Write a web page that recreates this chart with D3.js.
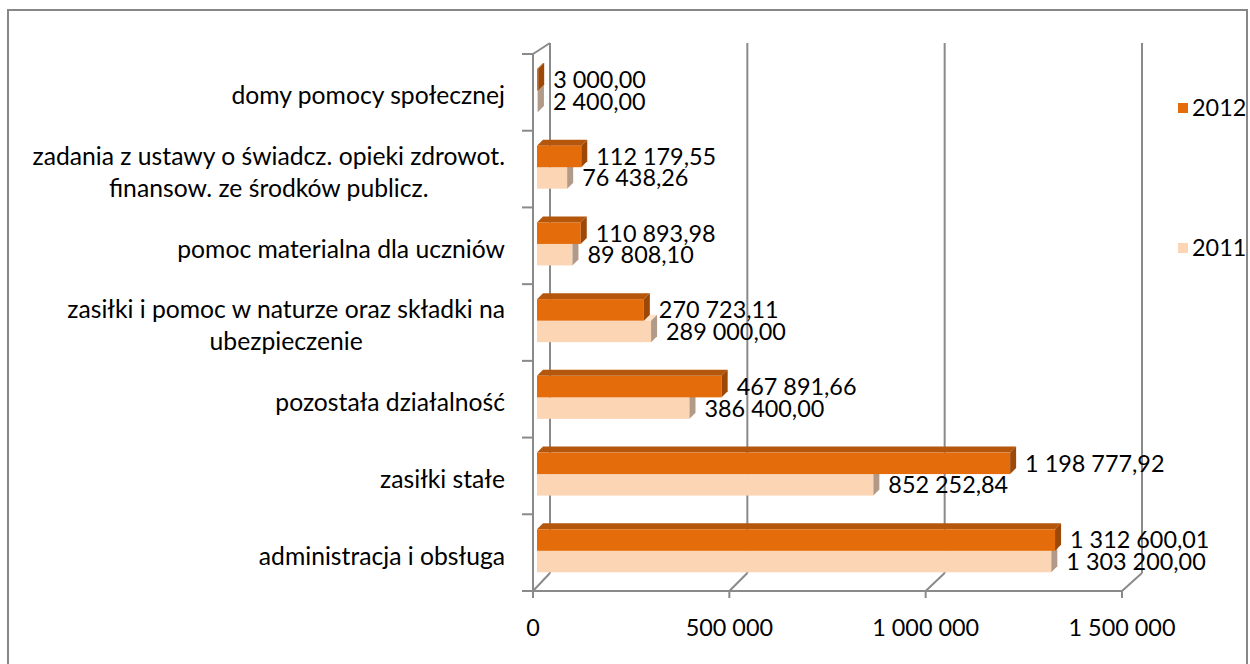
<!DOCTYPE html>
<html>
<head>
<meta charset="utf-8">
<script src="https://cdn.jsdelivr.net/npm/d3@7"></script>
<style>
body { margin: 0; background: #fff; }
text { font-family: Lato, "Open Sans", sans-serif; font-size: 23.4px; fill: #000; }
text.cat { font-size: 24.7px; }
</style>
</head>
<body>
<div id="chart"></div>
<script>
// Data
var categories = [
    ["domy pomocy społecznej"],
    ["zadania z ustawy o świadcz. opieki zdrowot.", "finansow. ze środków publicz."],
    ["pomoc materialna dla uczniów"],
    ["zasiłki i pomoc w naturze oraz składki na", "ubezpieczenie"],
    ["pozostała działalność "],
    ["zasiłki stałe"],
    ["administracja i obsługa"]
];
var values2012 = [3000.00, 112179.55, 110893.98, 270723.11, 467891.66, 1198777.92, 1312600.01];
var values2011 = [2400.00, 76438.26, 89808.10, 289000.00, 386400.00, 852252.84, 1303200.00];
var years = ["2012", "2011"];
var xTicks = [0, 500000, 1000000, 1500000];

var colors = {
    "2012": {front: "#e46c0a", top: "#b4560b", side: "#9e4807"},
    "2011": {front: "#fcd5b5", top: "#fde4cf", side: "#b19a88"}
};

var width = 1250, height = 664;
var plTop = 54, plBottom = 591, plLeft = 533, plRight = 1122;
var depth = 6; // bar depth in px
var gridColor = "#8a8a8a";

var locale = d3.formatLocale({decimal: ",", thousands: " ", grouping: [3], currency: ["", ""]});
var fmtVal = locale.format(",.2f");
var fmtTick = locale.format(",d");

var svg = d3.select("#chart").append("svg")
    .attr("width", width)
    .attr("height", height);

// outer frame
svg.append("rect")
    .attr("x", 8).attr("y", 10)
    .attr("width", 1239).attr("height", 662)
    .attr("fill", "none")
    .attr("stroke", "#878787")
    .attr("stroke-width", 2);

// scales
var idx = d3.range(categories.length);
var yScale = d3.scaleBand().domain(idx).range([plTop, plBottom]).padding(0);
var xAxisScale = d3.scaleLinear().domain([0, 1500000]).range([plLeft, plRight]);
var xBar = d3.scaleLinear().domain([0, 1500000]).range([537, 1129]);
var yearScale = d3.scaleBand().domain(years).range([15, 58]);

// simple perspective: push a front point back to the rear wall
function proj(xf, yf, z) {
    return [xf + z * (17 + 3 * (xf - plLeft) / (plRight - plLeft)),
            yf - z * (11 + 7 * (yf - plTop) / (plBottom - plTop))];
}

var walls = svg.append("g")
    .attr("stroke", gridColor)
    .attr("stroke-width", 2)
    .attr("fill", "none");

function line(p1, p2) {
    walls.append("line")
        .attr("x1", p1[0]).attr("y1", p1[1])
        .attr("x2", p2[0]).attr("y2", p2[1]);
}

// left wall
line([plLeft, plTop], [plLeft, plBottom]);
line([plLeft, plTop], proj(plLeft, plTop, 1));
line(proj(plLeft, plTop, 1), proj(plLeft, plBottom, 1));
line([plLeft, plBottom], proj(plLeft, plBottom, 1));

// category ticks
idx.concat([categories.length]).forEach(function (i) {
    var y = i < categories.length ? yScale(i) : plBottom;
    line([522, y], [plLeft, y]);
});

// floor front edge
line([plLeft, plBottom], [plRight, plBottom]);

// value gridlines: floor diagonal + back wall vertical
xTicks.forEach(function (t) {
    var x = xAxisScale(t);
    line([x, plBottom], [x, plBottom + 7]);
    if (t > 0) {
        line([x, plBottom], proj(x, plBottom, 1));
        line(proj(x, plTop, 1), proj(x, plBottom, 1));
    }
});

// x tick labels
svg.append("g").selectAll("text")
    .data(xTicks)
    .enter().append("text")
    .attr("x", d => xAxisScale(d))
    .attr("y", 628)
    .attr("dy", "0.36em")
    .attr("text-anchor", "middle")
    .text(d => fmtTick(d));

// category labels (centred lines, block right-aligned)
var catG = svg.append("g");
idx.forEach(function (i) {
    var lines = categories[i];
    var cy = yScale(i) + yScale.bandwidth() / 2 + 3;
    var g = catG.append("g");
    var texts = g.selectAll("text")
        .data(lines)
        .enter().append("text")
        .attr("class", "cat")
        .attr("y", (d, j) => cy + (j - (lines.length - 1) / 2) * 32)
        .attr("dy", "0.36em")
        .attr("text-anchor", "middle")
        .text(d => d);
    var maxW = 0;
    texts.each(function () { maxW = Math.max(maxW, this.getComputedTextLength()); });
    texts.attr("x", 505 - maxW / 2);
});

// bars
var bars = svg.append("g");
idx.forEach(function (i) {
    ["2011", "2012"].forEach(function (yr) {
        var v = yr === "2012" ? values2012[i] : values2011[i];
        var x0 = xBar(0), xe = xBar(v);
        var y0 = yScale(i) + yearScale(yr);
        var y1 = y0 + yearScale.bandwidth();
        var c = colors[yr];
        // top face
        bars.append("polygon")
            .attr("points", [[x0, y0], [x0 + depth, y0 - depth], [xe + depth, y0 - depth], [xe, y0]].join(" "))
            .attr("fill", c.top);
        // front face
        bars.append("rect")
            .attr("x", x0).attr("y", y0)
            .attr("width", xe - x0).attr("height", y1 - y0)
            .attr("fill", c.front);
        // side face
        bars.append("polygon")
            .attr("points", [[xe, y0], [xe + depth, y0 - depth], [xe + depth, y1 - depth], [xe, y1]].join(" "))
            .attr("fill", c.side);
    });
});

// data labels
var labels = svg.append("g");
idx.forEach(function (i) {
    years.forEach(function (yr) {
        var v = yr === "2012" ? values2012[i] : values2011[i];
        var y0 = yScale(i) + yearScale(yr);
        labels.append("text")
            .attr("x", xBar(v) + depth + 9)
            .attr("y", y0 + yearScale.bandwidth() / 2)
            .attr("dy", "0.36em")
            .text(fmtVal(v));
    });
});

// legend
var legend = svg.append("g");
var legendY = {"2012": 108, "2011": 248};
years.forEach(function (yr) {
    legend.append("rect")
        .attr("x", 1178).attr("y", legendY[yr] - 5)
        .attr("width", 10).attr("height", 10)
        .attr("fill", colors[yr].front);
    legend.append("text")
        .attr("x", 1192).attr("y", legendY[yr])
        .attr("dy", "0.36em")
        .text(yr);
});
</script>
</body>
</html>
